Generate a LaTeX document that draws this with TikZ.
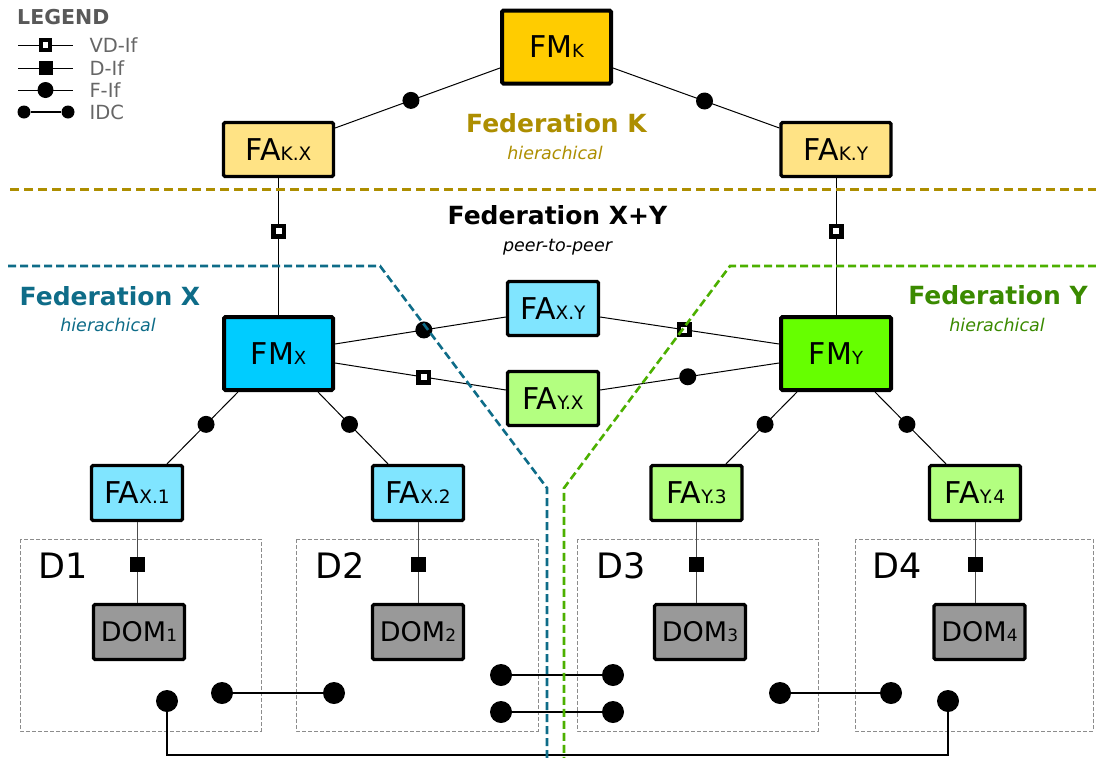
\documentclass[tikz,border=0pt]{standalone}
\usepackage{fontspec}
\setmainfont{DejaVu Sans}
\usetikzlibrary{calc}
\definecolor{fmkfill}{HTML}{FFCC00}
\definecolor{fakfill}{HTML}{FFE385}
\definecolor{fmxfill}{HTML}{00CCFF}
\definecolor{faxfill}{HTML}{80E5FF}
\definecolor{fmyfill}{HTML}{66FF00}
\definecolor{fayfill}{HTML}{B3FF80}
\definecolor{domfill}{HTML}{999999}
\definecolor{goldc}{HTML}{AD8E00}
\definecolor{tealc}{HTML}{0E6C88}
\definecolor{greenc}{HTML}{3A8A00}
\definecolor{greendash}{HTML}{4CB000}
\definecolor{leggray}{HTML}{595959}
\definecolor{legtext}{HTML}{666666}
\newcommand\fsz[1]{\fontsize{#1}{#1}\selectfont}
\begin{document}
\begin{tikzpicture}[x=1pt,y=-1pt,
  fmbox/.style={draw=black, line width=4pt, rounded corners=1.5pt, inner sep=0pt, minimum width=109pt, minimum height=73pt},
  fabox/.style={draw=black, line width=3.2pt, rounded corners=1.5pt, inner sep=0pt, minimum width=91pt, minimum height=55pt},
  dombox/.style={fabox, fill=domfill},
  conn/.style={line width=1pt, draw=black},
  dconn/.style={line width=1pt, draw=black!70},
  fif/.style={circle, fill=black, inner sep=0pt, minimum size=17pt},
  vdif/.style={rectangle, draw=black, fill=white, line width=4.5pt, inner sep=0pt, minimum size=10.5pt},
  dif/.style={rectangle, fill=black, inner sep=0pt, minimum size=15pt},
  idc/.style={circle, fill=black, inner sep=0pt, minimum size=22pt},
  idcline/.style={line width=2.6pt, draw=black},
  domarea/.style={draw=black!45, line width=0.8pt, dash pattern=on 4pt off 2pt},
  fedtitle/.style={font=\bfseries\fsz{25}, anchor=base},
  fedsub/.style={font=\itshape\fsz{17.5}, anchor=base},
  legtxt/.style={font=\fsz{19.5}, text=legtext, anchor=west}
]
\useasboundingbox (0,0) rectangle (1096,758);

% domain areas
\draw[domarea] (20,539) rectangle (261,731);
\draw[domarea] (296,539) rectangle (538,731);
\draw[domarea] (577,539) rectangle (818,731);
\draw[domarea] (855,539) rectangle (1093,731);
\node[font=\fsz{35}, anchor=base west, inner sep=0pt] (d1) at (38,578) {D1};
\node[font=\fsz{35}, anchor=base west, inner sep=0pt] (d2) at (315,578) {D2};
\node[font=\fsz{35}, anchor=base west, inner sep=0pt] (d3) at (596,578) {D3};
\node[font=\fsz{35}, anchor=base west, inner sep=0pt] (d4) at (872,578) {D4};

% legend
\node[font=\bfseries\fsz{20.5}, text=leggray, anchor=base west, inner sep=0pt] (legt) at (17,24) {LEGEND};
\coordinate (l1a) at (18,45); \coordinate (l1b) at (73,45);
\coordinate (l2a) at (18,68); \coordinate (l2b) at (73,68);
\coordinate (l3a) at (18,90); \coordinate (l3b) at (73,90);
\draw[conn] (l1a) -- (l1b) node[vdif, pos=0.5, minimum size=9.5pt, line width=4pt] (l1s) {};
\draw[conn] (l2a) -- (l2b) node[dif, pos=0.5, minimum size=14pt] (l2s) {};
\draw[conn] (l3a) -- (l3b) node[fif, pos=0.5, minimum size=16pt] (l3s) {};
\node[idc, minimum size=13pt] (l4a) at (24,112) {};
\node[idc, minimum size=13pt] (l4b) at (68,112) {};
\draw[line width=1.3pt] (l4a) -- (l4b);
\node[legtxt] (lt1) at (86,45) {VD-If};
\node[legtxt] (lt2) at (86,68) {D-If};
\node[legtxt] (lt3) at (86,90) {F-If};
\node[legtxt] (lt4) at (86,112) {IDC};

% boxes
\node[fmbox, fill=fmkfill] (fmk) at (556.5,47) {\fsz{30}FM\fsz{18}K};
\node[fabox, fill=fakfill, minimum width=110pt, minimum height=54pt] (fakx) at (278.5,149.5) {\fsz{30}FA\fsz{18.5}K.X};
\node[fabox, fill=fakfill, minimum width=110pt, minimum height=54pt] (faky) at (836,149.5) {\fsz{30}FA\fsz{18.5}K.Y};
\node[fmbox, fill=fmxfill] (fmx) at (278.5,353.5) {\fsz{30}FM\fsz{18}X};
\node[fmbox, fill=fmyfill, minimum width=110pt] (fmy) at (836,353.5) {\fsz{30}FM\fsz{18}Y};
\node[fabox, fill=faxfill, minimum height=54pt] (faxy) at (553,308.5) {\fsz{30}FA\fsz{18.5}X.Y};
\node[fabox, fill=fayfill, minimum height=54pt] (fayx) at (553,398.5) {\fsz{30}FA\fsz{18.5}Y.X};
\node[fabox, fill=faxfill] (fax1) at (137,493) {\fsz{30}FA\fsz{18.5}X.1};
\node[fabox, fill=faxfill] (fax2) at (418,493) {\fsz{30}FA\fsz{18.5}X.2};
\node[fabox, fill=fayfill] (fay3) at (696.5,493) {\fsz{30}FA\fsz{18.5}Y.3};
\node[fabox, fill=fayfill] (fay4) at (975,493) {\fsz{30}FA\fsz{18.5}Y.4};
\node[dombox] (dom1) at (139,632) {\fsz{27}DOM\fsz{17}1};
\node[dombox] (dom2) at (418,632) {\fsz{27}DOM\fsz{17}2};
\node[dombox] (dom3) at (700,632) {\fsz{27}DOM\fsz{17}3};
\node[dombox] (dom4) at (979.5,632) {\fsz{27}DOM\fsz{17}4};

% connectors
\draw[conn] ($(fmk.west)+(0,21)$) -- ($(fakx.east)+(0,-21.5)$) node[fif, pos=0.54] (ck1) {};
\draw[conn] ($(fmk.east)+(0,21)$) -- ($(faky.west)+(0,-21.5)$) node[fif, pos=0.55] (ck2) {};
\draw[conn] (fakx.south) -- (fmx.north) node[vdif, pos=0.39] (vk1) {};
\draw[conn] (faky.south) -- (fmy.north) node[vdif, pos=0.39] (vk2) {};
\draw[conn] ($(fmx.east)+(0,-9.5)$) -- ($(faxy.west)+(0,8.5)$) node[fif, pos=0.52] (cxy1) {};
\draw[conn] ($(faxy.east)+(0,8.5)$) -- ($(fmy.west)+(0,-9.5)$) node[vdif, pos=0.47] (vxy2) {};
\draw[conn] ($(fmx.east)+(0,9.5)$) -- ($(fayx.west)+(0,-8.5)$) node[vdif, pos=0.52] (vyx1) {};
\draw[conn] ($(fayx.east)+(0,-8.5)$) -- ($(fmy.west)+(0,9.5)$) node[fif, pos=0.49] (cyx2) {};
\draw[conn] ($(fmx.south)+(-40.5,0)$) -- ($(fax1.north)+(30,0)$) node[fif, pos=0.45] (cx1) {};
\draw[conn] ($(fmx.south)+(39.5,0)$) -- ($(fax2.north)+(-30,0)$) node[fif, pos=0.45] (cx2) {};
\draw[conn] ($(fmy.south)+(-39,0)$) -- ($(fay3.north)+(29.5,0)$) node[fif, pos=0.45] (cy3) {};
\draw[conn] ($(fmy.south)+(39,0)$) -- ($(fay4.north)+(-29,0)$) node[fif, pos=0.45] (cy4) {};
\draw[dconn] (fax1.south) -- (fax1.south |- dom1.north) node[dif, pos=0.53] (dd1) {};
\draw[dconn] (fax2.south) -- (fax2.south |- dom2.north) node[dif, pos=0.53] (dd2) {};
\draw[dconn] (fay3.south) -- (fay3.south |- dom3.north) node[dif, pos=0.53] (dd3) {};
\draw[dconn] (fay4.south) -- (fay4.south |- dom4.north) node[dif, pos=0.53] (dd4) {};

% IDC links
\node[idc] (c1) at (167,701) {};
\node[idc] (c2) at (222,693) {};
\node[idc] (c3) at (334,693) {};
\node[idc] (c4) at (501,675) {};
\node[idc] (c5) at (613,675) {};
\node[idc] (c6) at (501,712) {};
\node[idc] (c7) at (613,712) {};
\node[idc] (c8) at (780,693) {};
\node[idc] (c9) at (891,693) {};
\node[idc] (c10) at (948,701) {};
\coordinate (bottom) at (0,755);
\draw[idcline] (c2) -- (c3);
\draw[idcline] (c4) -- (c5);
\draw[idcline] (c6) -- (c7);
\draw[idcline] (c8) -- (c9);
\draw[idcline] (c1) -- (c1 |- bottom) -- (c10 |- bottom) -- (c10);

% federation borders
\draw[goldc, line width=3pt, dash pattern=on 9pt off 5pt] (10,189) -- (1096,189);
\draw[tealc, line width=2.6pt, dash pattern=on 8pt off 4pt] (8,266) -- (380,266) -- (547,488) -- (547,758);
\draw[greendash, line width=2.6pt, dash pattern=on 8pt off 4pt] (1096,266) -- (730,266) -- (564,488) -- (564,758);

% federation labels
\node[fedtitle, text=goldc] (fedk) at (556.5,132) {Federation K};
\node[fedsub, text=goldc] (fedks) at (555,159) {hierachical};
\node[fedtitle, text=black] (fedxy) at (557.5,224) {Federation X+Y};
\node[fedsub, text=black] (fedxys) at (557.5,251) {peer-to-peer};
\node[fedtitle, text=tealc] (fedx) at (110,305) {Federation X};
\node[fedsub, text=tealc] (fedxs) at (108,331) {hierachical};
\node[fedtitle, text=greenc] (fedy) at (998,304) {Federation Y};
\node[fedsub, text=greenc] (fedys) at (997,331) {hierachical};
\end{tikzpicture}
\end{document}
